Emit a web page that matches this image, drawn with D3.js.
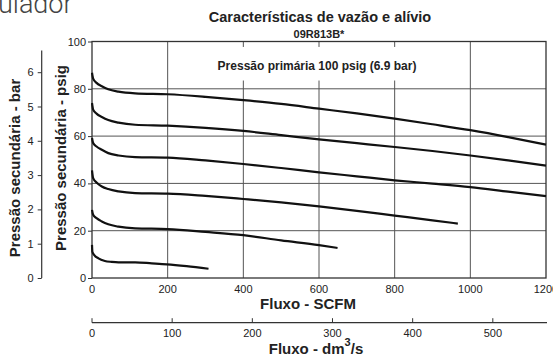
<!DOCTYPE html>
<html><head><meta charset="utf-8">
<script src="https://cdn.jsdelivr.net/npm/d3@7/dist/d3.min.js"></script>
<style>
html,body{margin:0;padding:0;background:#fff;}
svg text{font-family:"Liberation Sans",Arial,Helvetica,sans-serif;}
</style></head>
<body><svg id="c" width="553" height="356"></svg>
<script>
// ---- data ----
const title = "Características de vazão e alívio";
const subtitle = "09R813B*";
const note = "Pressão primária 100 psig (6.9 bar)";
const xTicksSCFM = [0, 200, 400, 600, 800, 1000, 1200];
const yTicksPsig = [0, 20, 40, 60, 80, 100];
const yTicksBar = [0, 1, 2, 3, 4, 5, 6];
const xTicksDm3 = [0, 100, 200, 300, 400, 500];
const psiPerBar = 14.5038;
const dm3PerScfm = 0.4719474;
const barAxisTopValue = 6.63;

// flow (SCFM) for each curve, and secondary pressure (psig)
const flow1 = [0,3,12,26,43,70,114,200,300,400,500,600,700,800,900,1000,1100,1200];
const psig1 = [86.8,84.3,82.5,81.1,79.8,78.8,78.1,77.7,76.6,75.2,73.6,71.6,69.6,67.4,65.0,62.5,59.6,56.4];
const flow2 = [0,3,12,26,43,70,114,200,300,400,500,600,700,800,900,1000,1100,1200];
const psig2 = [74.0,71.2,69.5,68.1,66.8,65.7,64.8,64.4,63.5,62.2,60.4,58.6,57.0,55.4,53.7,51.8,49.7,47.5];
const flow3 = [0,3,12,26,43,70,114,200,300,400,500,600,700,800,900,1000,1100,1200];
const psig3 = [59.2,57.1,55.6,54.2,52.8,51.8,51.1,50.9,49.7,48.2,46.5,44.7,43.0,41.3,39.9,38.4,36.5,34.6];
const flow4 = [0,3,12,26,43,70,114,200,300,400,500,600,700,800,900,967];
const psig4 = [45.5,42.2,40.4,38.7,37.6,36.6,35.9,35.7,34.7,33.4,32.0,30.3,28.4,26.4,24.4,23.0];
const flow5 = [0,3,12,26,43,70,114,200,300,400,500,600,649];
const psig5 = [28.8,26.7,25.3,23.9,22.7,21.7,21.0,20.7,19.5,18.1,15.9,13.9,12.7];
const flow6 = [0,1,6,17,34,52,70,114,158,198,250,308];
const psig6 = [14.0,11.1,9.7,8.3,7.2,6.8,6.6,6.6,6.2,5.8,5.0,3.9];

const series = [[flow1,psig1],[flow2,psig2],[flow3,psig3],[flow4,psig4],[flow5,psig5],[flow6,psig6]];

// ---- drawing ----
(function(){
const svg = d3.select("#c");
const pL = 92, pR = 546, pT = 41.5, pB = 278;
const x = d3.scaleLinear().domain([0,1200]).range([pL,pR]);
const y = d3.scaleLinear().domain([0,100]).range([pB,pT]);
const yBar = d3.scaleLinear().domain([0,100/psiPerBar]).range([pB,pT]);
const xDm3 = d3.scaleLinear().domain([0,1200*dm3PerScfm]).range([pL,pR]);
const ink = "#222";

// big cropped heading
svg.append("text").attr("x",-2).attr("y",13).attr("font-size",27)
  .style("font-family","Roboto, 'Liberation Sans', sans-serif").attr("font-weight",300)
  .attr("fill","#444").text("ulador");

// titles
svg.append("text").attr("x",320).attr("y",22).attr("text-anchor","middle")
  .attr("font-size",14.5).attr("font-weight","bold").attr("fill",ink).text(title);
svg.append("text").attr("x",319).attr("y",37.5).attr("text-anchor","middle")
  .attr("font-size",11).attr("font-weight","bold").attr("fill",ink).text(subtitle);

// grid
const g = svg.append("g");
g.selectAll("line.vx").data(xTicksSCFM.slice(1,-1)).enter().append("line")
  .attr("x1",d=>x(d)).attr("x2",d=>x(d)).attr("y1",pT).attr("y2",pB)
  .attr("stroke","#555").attr("stroke-width",1);
g.selectAll("line.hy").data(yTicksPsig.slice(1,-1)).enter().append("line")
  .attr("x1",pL).attr("x2",pR).attr("y1",d=>y(d)).attr("y2",d=>y(d))
  .attr("stroke","#555").attr("stroke-width",1);

// note box
const boxG = svg.append("g");
const nt = svg.append("text").attr("x",x(600)-2).attr("y",y(90)+4.5).attr("text-anchor","middle")
  .attr("font-size",12).attr("font-weight","bold").attr("fill",ink).text(note);
const bb = nt.node().getBBox();
boxG.append("rect").attr("x",bb.x-5).attr("y",y(97.7)).attr("width",bb.width+10)
  .attr("height",y(83.5)-y(97.7)).attr("fill","#fff");

// border
svg.append("rect").attr("x",pL).attr("y",pT).attr("width",pR-pL).attr("height",pB-pT)
  .attr("fill","none").attr("stroke","#333").attr("stroke-width",1.3);

// curves
const line = d3.line().x(d=>x(d[0])).y(d=>y(d[1])).curve(d3.curveMonotoneX);
series.forEach(([f,p])=>{
  svg.append("path").datum(f.map((v,i)=>[v,p[i]])).attr("d",line)
    .attr("fill","none").attr("stroke","#111").attr("stroke-width",2.2);
});

// psig axis
const ay = svg.append("g").attr("transform",`translate(${pL},0)`)
  .call(d3.axisLeft(y).tickValues(yTicksPsig).tickSize(4).tickPadding(2));
ay.select(".domain").remove();
ay.selectAll("line").attr("stroke","#333");
ay.selectAll("text").attr("font-size",11).attr("fill",ink).style("font-family","Liberation Sans, Arial, sans-serif");

// bar axis
const barX = 41.7;
const ab = svg.append("g").attr("transform",`translate(${barX},0)`)
  .call(d3.axisLeft(yBar).tickValues(yTicksBar).tickFormat(d3.format("d")).tickSize(4).tickPadding(4));
ab.select(".domain").remove();
ab.selectAll("line").attr("stroke","#333");
ab.selectAll("text").attr("font-size",11).attr("fill",ink).style("font-family","Liberation Sans, Arial, sans-serif");
svg.append("line").attr("x1",barX).attr("x2",barX).attr("y1",yBar(barAxisTopValue)).attr("y2",yBar(0))
  .attr("stroke","#333").attr("stroke-width",1.2);

// y titles
svg.append("text").attr("transform",`translate(66,158) rotate(-90)`).attr("text-anchor","middle")
  .attr("font-size",15).attr("font-weight","bold").attr("fill",ink).text("Pressão secundária - psig");
svg.append("text").attr("transform",`translate(20,168) rotate(-90)`).attr("text-anchor","middle")
  .attr("font-size",15).attr("font-weight","bold").attr("fill",ink).text("Pressão secundária - bar");

// SCFM axis labels
svg.selectAll("text.xs").data(xTicksSCFM).enter().append("text")
  .attr("x",d=>x(d)).attr("y",292.5).attr("text-anchor","middle")
  .attr("font-size",11).attr("fill",ink).text(d=>d);
svg.append("text").attr("x",308).attr("y",308.5).attr("text-anchor","middle")
  .attr("font-size",15).attr("font-weight","bold").attr("fill",ink).text("Fluxo - SCFM");

// dm3/s axis
const dmY = 322.7;
svg.append("line").attr("x1",pL).attr("x2",pR+1).attr("y1",dmY).attr("y2",dmY)
  .attr("stroke","#333").attr("stroke-width",1.3);
svg.selectAll("line.dt").data(xTicksDm3).enter().append("line")
  .attr("x1",d=>xDm3(d)).attr("x2",d=>xDm3(d)).attr("y1",dmY).attr("y2",dmY-4.5)
  .attr("stroke","#333").attr("stroke-width",1);
svg.selectAll("text.dl").data(xTicksDm3).enter().append("text")
  .attr("x",d=>xDm3(d)).attr("y",337).attr("text-anchor","middle")
  .attr("font-size",11).attr("fill",ink).text(d=>d);
const t2 = svg.append("text").attr("x",316).attr("y",354).attr("text-anchor","middle")
  .attr("font-size",15).attr("font-weight","bold").attr("fill",ink);
t2.append("tspan").text("Fluxo - dm");
t2.append("tspan").attr("dy",-8).attr("font-size",11).text("3");
t2.append("tspan").attr("dy",8).text("/s");
})();
</script></body></html>
